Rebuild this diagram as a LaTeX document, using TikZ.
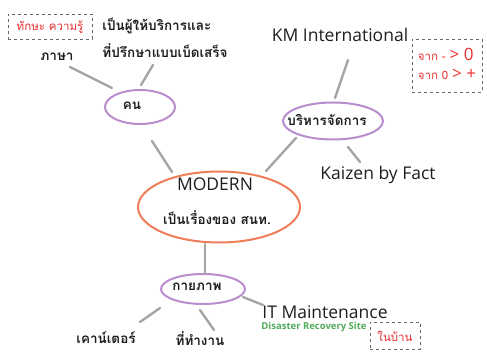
\documentclass[tikz,border=0pt]{standalone}
\usepackage{fontspec}
\setmainfont{Open Sans}
\newfontfamily\thai[Script=Thai]{Loma}
\newfontfamily\lat{Open Sans}
\usetikzlibrary{shapes.geometric}
\definecolor{lin}{RGB}{165,165,165}
\definecolor{purp}{RGB}{185,140,205}
\definecolor{oran}{RGB}{240,125,90}
\definecolor{redt}{RGB}{235,45,45}
\definecolor{grn}{RGB}{80,170,90}
\definecolor{txt}{RGB}{30,30,30}
\tikzset{
  conn/.style={draw=lin,line width=2.4pt,line cap=round},
  bubble/.style={ellipse,draw=purp,line width=2pt,inner sep=0pt},
  note/.style={draw=black!60,dashed,line width=0.5pt,text=redt,font=\thai\fontsize{11.5}{13}\selectfont},
  thaitxt/.style={text=txt,font=\thai\bfseries\fontsize{13.5}{27}\selectfont},
  engtxt/.style={text=txt,font=\lat\fontsize{17.5}{20}\selectfont},
}
\begin{document}
\begin{tikzpicture}[x=1pt,y=-1pt]
\useasboundingbox (0,0) rectangle (487,352);
% nodes
\node[note,minimum width=84pt,minimum height=25pt] (skill) at (50,27) {ทักษะ ความรู้};
\node[thaitxt] (lang) at (57,57) {ภาษา};
\node[thaitxt,align=left] (serv) at (165,38) {เป็นผู้ให้บริการและ\\ที่ปรึกษาแบบเบ็ดเสร็จ};
\node[bubble,minimum width=70pt,minimum height=34pt] (khon) at (140,107) {};
\node[thaitxt] at (132,106) {คน};
\node[engtxt] (km) at (340,35) {KM International};
\node[note,minimum width=70pt,minimum height=53pt,align=left,inner sep=0pt] (from) at (447,66)
  {\begin{tabular}{@{}l@{}}จาก - {\lat\fontsize{17}{17}\selectfont> 0}\\[5pt]จาก 0 {\lat\fontsize{17}{17}\selectfont> +}\end{tabular}};
\node[bubble,minimum width=100pt,minimum height=37pt] (mgmt) at (333,121) {};
\node[thaitxt] at (327,120) {บริหารจัดการ};
\node[engtxt] (kaizen) at (378,175) {Kaizen by Fact};
\node[ellipse,draw=oran,line width=2pt,minimum width=162pt,minimum height=71pt] (modern) at (219,207) {};
\node[engtxt] (modt) at (215,184) {MODERN};
\node[thaitxt] (modth) at (217,218) {เป็นเรื่องของ สนท.};
\node[bubble,minimum width=84pt,minimum height=30pt] (phys) at (203,289) {};
\node[thaitxt] at (197,287) {กายภาพ};
\node[engtxt] (itm) at (325,312) {IT Maintenance};
\node[text=grn,font=\lat\bfseries\fontsize{9.5}{11}\selectfont] (drs) at (314,327) {Disaster Recovery Site};
\node[note,minimum width=50pt,minimum height=27pt] (home) at (395,336) {ในบ้าน};
\node[thaitxt] (counter) at (106,338) {เคาน์เตอร์};
\node[thaitxt] (office) at (200,339) {ที่ทำงาน};
% connectors
\coordinate (c1) at (70,67); \coordinate (c2) at (112,88);
\draw[conn] (c1) -- (c2);
\coordinate (c3) at (153,65); \coordinate (c4) at (141,85);
\draw[conn] (c3) -- (c4);
\coordinate (c5) at (152,141); \coordinate (c6) at (172,172);
\draw[conn] (c5) -- (c6);
\coordinate (c7) at (348,60); \coordinate (c8) at (335,98);
\draw[conn] (c7) -- (c8);
\coordinate (c9) at (296,138); \coordinate (c10) at (266,171);
\draw[conn] (c9) -- (c10);
\coordinate (c11) at (348,147); \coordinate (c12) at (360,162);
\draw[conn] (c11) -- (c12);
\coordinate (c13) at (205,244); \coordinate (c14) at (205,274);
\draw[conn] (c13) -- (c14);
\coordinate (c15) at (160,308); \coordinate (c16) at (140,322);
\draw[conn] (c15) -- (c16);
\coordinate (c17) at (200,310); \coordinate (c18) at (214,330);
\draw[conn] (c17) -- (c18);
\coordinate (c19) at (243,297); \coordinate (c20) at (263,305);
\draw[conn] (c19) -- (c20);
\end{tikzpicture}
\end{document}
